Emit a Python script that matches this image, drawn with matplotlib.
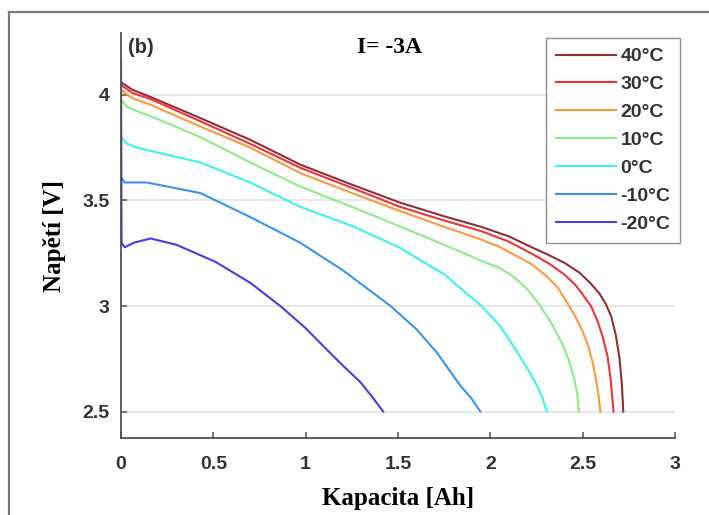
import matplotlib.pyplot as plt
from matplotlib.lines import Line2D

# discharge curves: capacity [Ah] vs voltage [V]
cap_40 = [0, 0.06, 0.16, 0.43, 0.70, 0.97, 1.25, 1.51, 1.75, 1.95, 2.10, 2.22, 2.32,
          2.40, 2.48, 2.54, 2.59, 2.625, 2.655, 2.68, 2.70, 2.712, 2.72]
v_40 = [4.06, 4.025, 3.99, 3.89, 3.787, 3.67, 3.575, 3.49, 3.425, 3.375, 3.33, 3.28, 3.24,
        3.205, 3.16, 3.11, 3.06, 3.01, 2.95, 2.86, 2.75, 2.63, 2.5]

cap_30 = [0, 0.06, 0.16, 0.43, 0.70, 0.97, 1.25, 1.51, 1.75, 1.95, 2.10, 2.22, 2.32,
          2.40, 2.46, 2.50, 2.545, 2.58, 2.61, 2.635, 2.652, 2.667]
v_30 = [4.047, 4.01, 3.98, 3.875, 3.768, 3.655, 3.56, 3.47, 3.405, 3.355, 3.305, 3.25, 3.2,
        3.15, 3.1, 3.055, 3.0, 2.93, 2.85, 2.76, 2.65, 2.5]

cap_20 = [0, 0.06, 0.16, 0.43, 0.70, 0.97, 1.25, 1.51, 1.75, 1.95, 2.05, 2.22, 2.30,
          2.363, 2.42, 2.46, 2.50, 2.53, 2.555, 2.573, 2.587, 2.596]
v_20 = [4.024, 3.985, 3.953, 3.85, 3.75, 3.63, 3.535, 3.45, 3.375, 3.315, 3.28, 3.2, 3.145,
        3.09, 3.01, 2.95, 2.88, 2.81, 2.73, 2.65, 2.57, 2.5]

cap_10 = [0, 0.03, 0.08, 0.20, 0.43, 0.70, 0.97, 1.25, 1.51, 1.75, 1.95, 2.05, 2.125, 2.20,
          2.255, 2.30, 2.34, 2.39, 2.423, 2.45, 2.47, 2.48]
v_10 = [3.98, 3.945, 3.925, 3.885, 3.80, 3.68, 3.566, 3.47, 3.377, 3.29, 3.215, 3.18, 3.14,
        3.08, 3.02, 2.96, 2.905, 2.82, 2.75, 2.67, 2.59, 2.5]

cap_0 = [0, 0.03, 0.08, 0.16, 0.43, 0.70, 0.97, 1.25, 1.51, 1.75, 1.946, 2.054, 2.14,
         2.21, 2.255, 2.28, 2.307]
v_0 = [3.80, 3.77, 3.752, 3.735, 3.68, 3.585, 3.47, 3.38, 3.276, 3.15, 3.005, 2.905, 2.79,
       2.69, 2.62, 2.57, 2.5]

cap_m10 = [0, 0.02, 0.14, 0.43, 0.68, 0.97, 1.20, 1.46, 1.60, 1.71, 1.84, 1.90, 1.946]
v_m10 = [3.61, 3.585, 3.585, 3.535, 3.43, 3.30, 3.17, 3.0, 2.89, 2.78, 2.62, 2.56, 2.5]

cap_m20 = [0, 0.003, 0.02, 0.07, 0.16, 0.30, 0.51, 0.70, 0.863, 1.0, 1.13, 1.205, 1.296,
           1.36, 1.42]
v_m20 = [4.165, 3.30, 3.278, 3.30, 3.32, 3.29, 3.21, 3.11, 3.0, 2.895, 2.78, 2.715, 2.64,
         2.57, 2.5]

labels = ['40°C', '30°C', '20°C', '10°C', '0°C', '-10°C', '-20°C']
colors = ['#8c3038', '#e8353e', '#f99a3e', '#92e88c', '#3ff0f0', '#3d92e6', '#4a3be2']
curves = [(cap_40, v_40), (cap_30, v_30), (cap_20, v_20), (cap_10, v_10),
          (cap_0, v_0), (cap_m10, v_m10), (cap_m20, v_m20)]

x_ticks = [0, 0.5, 1, 1.5, 2, 2.5, 3]
x_ticklabels = ['0', '0.5', '1', '1.5', '2', '2.5', '3']
y_ticks = [2.5, 3, 3.5, 4]
y_ticklabels = ['2.5', '3', '3.5', '4']

W, H = 709, 515
fig = plt.figure(figsize=(W / 100, H / 100), dpi=100)
ax = fig.add_axes([121 / W, (H - 438) / H, (675 - 121) / W, (438 - 33) / H])

for (c, v), lab, col in zip(curves, labels, colors):
    ax.plot(c, v, color=col, lw=1.5, label=lab)

ax.set_xlim(0, 3)
ax.set_ylim(2.375, 4.293)
ax.set_xticks(x_ticks)
ax.set_xticklabels(x_ticklabels)
ax.set_yticks(y_ticks)
ax.set_yticklabels(y_ticklabels)
ax.yaxis.grid(True, color='#e3e3e3', lw=1.2)
ax.set_axisbelow(True)

for s in ['top', 'right']:
    ax.spines[s].set_visible(False)
for s in ['left', 'bottom']:
    ax.spines[s].set_color('#505050')
    ax.spines[s].set_linewidth(1.3)
ax.tick_params(direction='in', length=4, width=1.1, color='#505050', labelcolor='#333333',
               labelsize=14)
ax.tick_params(axis='x', pad=13)
ax.tick_params(axis='y', pad=8)
for t in ax.get_xticklabels() + ax.get_yticklabels():
    t.set_fontweight('bold')
    t.set_family('Liberation Sans')

ax.set_xlabel('Kapacita [Ah]', family='Liberation Serif', fontweight='bold', fontsize=18,
              labelpad=10)
ax.set_ylabel('Napětí [V]', family='Liberation Serif', fontweight='bold', fontsize=18,
              labelpad=12)

ax.text(0.012, 0.965, '(b)', transform=ax.transAxes, family='Liberation Sans',
        fontweight='bold', fontsize=14.5, color='#333333', va='center', ha='left')
ax.text(0.426, 0.963, 'I= -3A', transform=ax.transAxes, family='Liberation Serif',
        fontweight='bold', fontsize=17, va='center', ha='left')

leg = ax.legend(loc='upper right', bbox_to_anchor=(680 / W, 1 - 38 / H),
                bbox_transform=fig.transFigure, borderaxespad=0, fancybox=False,
                framealpha=1, edgecolor='#909090', handlelength=3.1, handletextpad=0.2,
                labelspacing=0.53, borderpad=0.5,
                prop={'family': 'Liberation Sans', 'weight': 'bold', 'size': 14})
leg.get_frame().set_linewidth(1.0)
for t in leg.get_texts():
    t.set_color('#333333')

# outer page frame (only left and top edges are visible)
fig.add_artist(Line2D([9 / W, 9 / W], [0, 1 - 12 / H], transform=fig.transFigure,
                      color='#7a7a7a', lw=1.6))
fig.add_artist(Line2D([9 / W, 1], [1 - 12 / H, 1 - 12 / H], transform=fig.transFigure,
                      color='#7a7a7a', lw=1.6))

fig.savefig('out.png', dpi=100)
